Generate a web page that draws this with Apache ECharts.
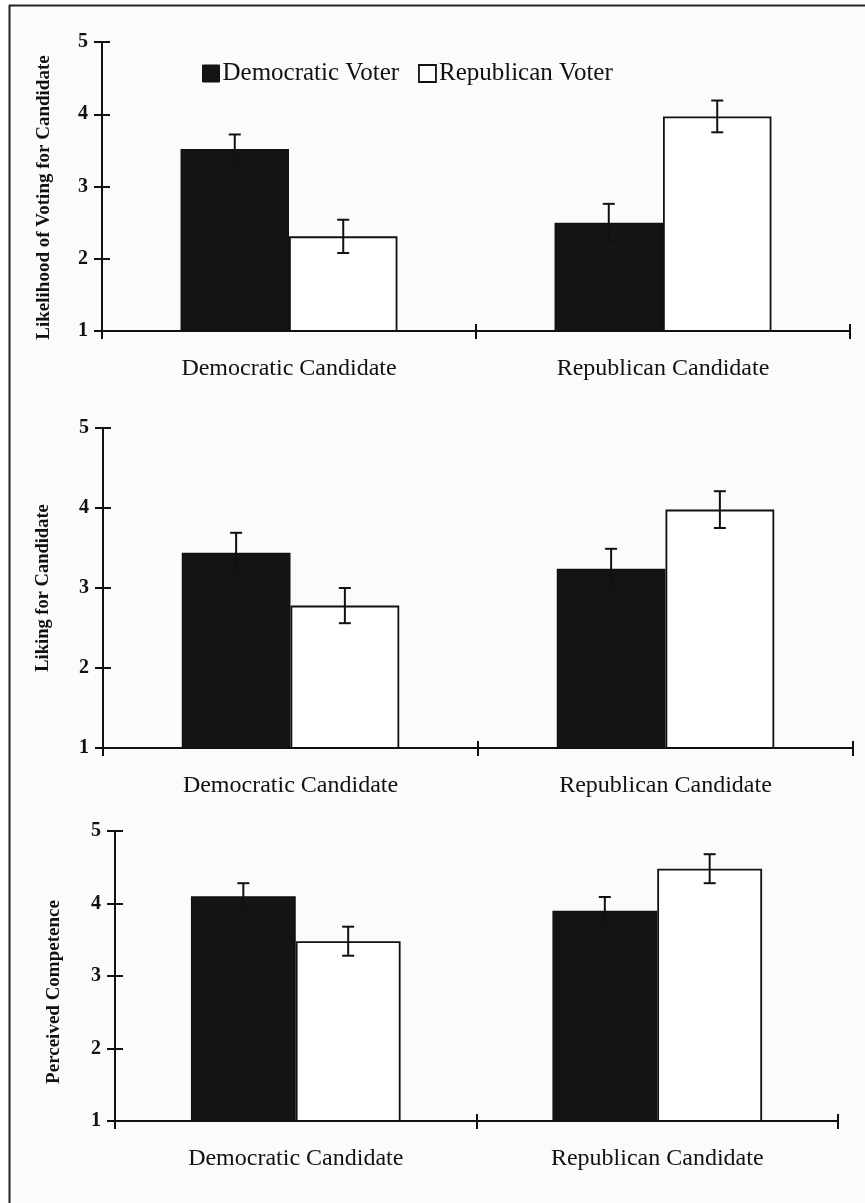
<!DOCTYPE html>
<html>
<head>
<meta charset="utf-8">
<script src="https://cdn.jsdelivr.net/npm/echarts@6/dist/echarts.min.js"></script>
<style>
html,body{margin:0;padding:0;background:#fff;}
#c{width:865px;height:1203px;}
</style>
</head>
<body>
<div id="c"></div>
<script>
// ---- data ----
const categories = ['Democratic Candidate', 'Republican Candidate'];
const seriesNames = ['Democratic Voter', 'Republican Voter'];
const yTitles = ['Likelihood of Voting for Candidate', 'Liking for Candidate', 'Perceived Competence'];

const voteDem = [3.52, 2.50];
const voteRep = [2.31, 3.97];
const voteDemErr = [0.20, 0.26];
const voteRepErr = [0.23, 0.22];

const likeDem = [3.44, 3.24];
const likeRep = [2.78, 3.98];
const likeDemErr = [0.25, 0.25];
const likeRepErr = [0.22, 0.23];

const compDem = [4.10, 3.90];
const compRep = [3.48, 4.48];
const compDemErr = [0.18, 0.19];
const compRepErr = [0.20, 0.20];

const yTicks = [1, 2, 3, 4, 5];

// ---- layout ----
const FONT = '"Liberation Serif", "DejaVu Serif", serif';
const panels = [
  {dem: voteDem, rep: voteRep, demErr: voteDemErr, repErr: voteRepErr, grid: {left: 102, top: 42, width: 748, height: 289}, nameGap: 48, nameSize: 19, shift: 22},
  {dem: likeDem, rep: likeRep, demErr: likeDemErr, repErr: likeRepErr, grid: {left: 103, top: 428, width: 750, height: 320}, nameGap: 50, nameSize: 18.5, shift: 0},
  {dem: compDem, rep: compRep, demErr: compDemErr, repErr: compRepErr, grid: {left: 115, top: 831, width: 723, height: 290}, nameGap: 51, nameSize: 19, shift: 32}
];
const CAT_GAP = 0.42;

const grid = [], xAxis = [], yAxis = [], series = [];
panels.forEach((p, i) => {
  grid.push(Object.assign({containLabel: false}, p.grid));
  xAxis.push({
    type: 'category', gridIndex: i, data: categories, position: 'bottom',
    axisLine: {lineStyle: {color: '#111', width: 2}},
    axisTick: {show: true, length: 8, lineStyle: {color: '#111', width: 2}},
    axisLabel: {margin: 26, fontFamily: FONT, fontSize: 24, color: '#111'}
  });
  xAxis.push({
    type: 'category', gridIndex: i, data: categories, position: 'bottom',
    axisLine: {show: false},
    axisTick: {show: true, inside: true, length: 7, lineStyle: {color: '#111', width: 2}},
    axisLabel: {show: false}
  });
  yAxis.push({
    type: 'value', gridIndex: i, min: 1, max: 5, interval: 1, position: 'left',
    name: yTitles[i], nameLocation: 'middle', nameGap: p.nameGap,
    nameTextStyle: {fontFamily: FONT, fontSize: p.nameSize, color: '#111', fontWeight: 'bold',
      padding: [0, p.shift, 0, 0]},
    axisLine: {show: true, lineStyle: {color: '#111', width: 2}},
    axisTick: {show: true, length: 8, lineStyle: {color: '#111', width: 2}},
    axisLabel: {margin: 14, fontFamily: FONT, fontSize: 20, color: '#111', fontWeight: 'bold',
      formatter: v => yTicks.includes(v) ? String(v) : ''},
    splitLine: {show: false}
  });
  yAxis.push({
    type: 'value', gridIndex: i, min: 1, max: 5, interval: 1, position: 'left',
    axisLine: {show: false},
    axisTick: {show: true, inside: true, length: 8, lineStyle: {color: '#111', width: 2}},
    axisLabel: {show: false}, splitLine: {show: false}
  });
  const xi = i * 2, yi = i * 2;
  series.push({
    name: seriesNames[0], type: 'bar', xAxisIndex: xi, yAxisIndex: yi,
    data: p.dem, barGap: '0%', barCategoryGap: (CAT_GAP * 100) + '%',
    itemStyle: {color: '#141414', borderColor: '#111', borderWidth: 1.5}, z: 2
  });
  series.push({
    name: seriesNames[1], type: 'bar', xAxisIndex: xi, yAxisIndex: yi,
    data: p.rep, barGap: '0%', barCategoryGap: (CAT_GAP * 100) + '%',
    itemStyle: {color: '#ffffff', borderColor: '#111', borderWidth: 1.8}, z: 2
  });
  const errData = [];
  categories.forEach((c, k) => {
    errData.push([k, p.dem[k], p.demErr[k], -1]);
    errData.push([k, p.rep[k], p.repErr[k], 1]);
  });
  series.push({
    type: 'custom', xAxisIndex: xi, yAxisIndex: yi, z: 5, silent: true,
    data: errData,
    renderItem: function (params, api) {
      const k = api.value(0), v = api.value(1), e = api.value(2), side = api.value(3);
      const band = api.size([1, 0])[0];
      const bw = band * (1 - CAT_GAP) / 2;
      const c = api.coord([k, v]);
      const x = c[0] + side * bw / 2;
      const yt = api.coord([k, v + e])[1];
      const yb = api.coord([k, v - e])[1];
      const cap = 6;
      const st = {stroke: '#111', lineWidth: 2};
      return {type: 'group', children: [
        {type: 'line', shape: {x1: x, y1: yt, x2: x, y2: yb}, style: st},
        {type: 'line', shape: {x1: x - cap, y1: yt, x2: x + cap, y2: yt}, style: st},
        {type: 'line', shape: {x1: x - cap, y1: yb, x2: x + cap, y2: yb}, style: st}
      ]};
    }
  });
});

const chart = echarts.init(document.getElementById('c'), null, {renderer: 'canvas'});
chart.setOption({
  animation: false,
  backgroundColor: '#ffffff',
  grid: grid, xAxis: xAxis, yAxis: yAxis, series: series,
  legend: {
    data: [
      {name: seriesNames[0], itemStyle: {color: '#141414', borderColor: '#111', borderWidth: 1}},
      {name: seriesNames[1], itemStyle: {color: '#ffffff', borderColor: '#111', borderWidth: 1.8}}
    ],
    left: 197, top: 56, icon: 'rect', itemWidth: 17, itemHeight: 17, itemGap: 19,
    selectedMode: false,
    textStyle: {fontFamily: FONT, fontSize: 25, color: '#111', padding: [0, 0, 0, -2]}
  },
  graphic: [
    {type: 'rect', left: 10, top: 5, shape: {width: 855, height: 1198}, style: {fill: '#fbfbfb', stroke: null}, z: -10, silent: true},
    {type: 'line', shape: {x1: 9.5, y1: 5, x2: 9.5, y2: 1203}, style: {stroke: '#222', lineWidth: 2}, z: 10, silent: true},
    {type: 'line', shape: {x1: 9, y1: 5.5, x2: 865, y2: 5.5}, style: {stroke: '#222', lineWidth: 2}, z: 10, silent: true}
  ]
});
</script>
</body>
</html>
